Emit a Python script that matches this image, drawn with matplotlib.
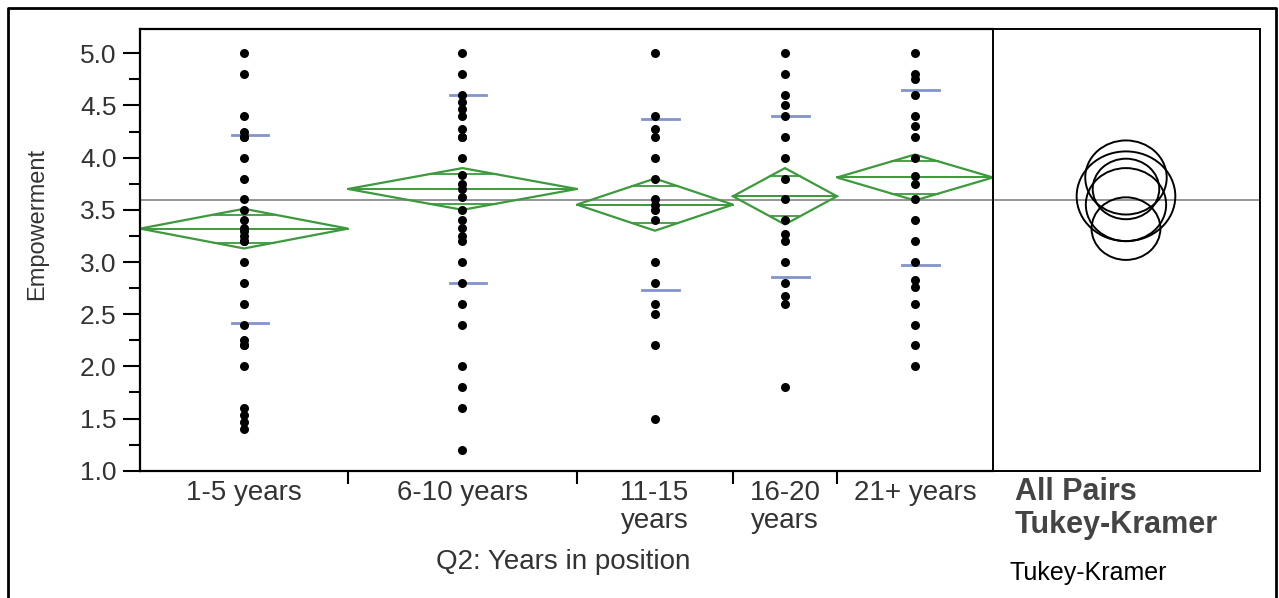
import numpy as np
import matplotlib.pyplot as plt
from matplotlib.patches import Ellipse, Polygon
from matplotlib.lines import Line2D

plt.rcParams['font.family'] = ['Liberation Sans', 'DejaVu Sans']

# Colores estilo JMP
COLOR_DIAMANTE = '#3c9a3c'
COLOR_DESV = '#8394cc'
COLOR_MEDIA = '#8c8c8c'
COLOR_TEXTO = '#333333'

# Datos
GRUPOS = ['1-5 years', '6-10 years', '11-15\nyears', '16-20\nyears', '21+ years']
N_GRUPO = [40, 44, 30, 20, 30]

PUNTOS_1_5 = [5.0, 4.8, 4.4, 4.25, 4.2, 4.2, 4.0, 3.8, 3.6, 3.5, 3.4, 3.33, 3.3,
              3.25, 3.2, 3.2, 3.0, 2.8, 2.6, 2.4, 2.25, 2.2, 2.2, 2.0, 1.6,
              1.53, 1.47, 1.4]
PUNTOS_6_10 = [5.0, 4.8, 4.6, 4.53, 4.47, 4.4, 4.27, 4.2, 4.2, 4.0, 3.83, 3.75,
               3.7, 3.62, 3.5, 3.4, 3.33, 3.25, 3.2, 3.0, 2.8, 2.6, 2.4, 2.0,
               1.8, 1.6, 1.2]
PUNTOS_11_15 = [5.0, 4.4, 4.27, 4.2, 4.0, 3.8, 3.6, 3.55, 3.5, 3.4, 3.0, 2.8,
                2.6, 2.5, 2.2, 1.5]
PUNTOS_16_20 = [5.0, 4.8, 4.6, 4.5, 4.4, 4.2, 4.0, 3.8, 3.6, 3.4, 3.27, 3.2,
                3.0, 2.8, 2.67, 2.6, 1.8]
PUNTOS_21 = [5.0, 4.8, 4.75, 4.6, 4.4, 4.3, 4.2, 4.0, 3.82, 3.75, 3.6, 3.4,
             3.2, 3.0, 2.83, 2.76, 2.6, 2.4, 2.2, 2.0]
PUNTOS = [PUNTOS_1_5, PUNTOS_6_10, PUNTOS_11_15, PUNTOS_16_20, PUNTOS_21]

MEDIAS = [3.32, 3.70, 3.55, 3.63, 3.81]
IC_MEDIO = [0.19, 0.20, 0.25, 0.27, 0.22]
DESV_EST = [0.90, 0.90, 0.82, 0.77, 0.84]
RADIO_CIRCULO = [0.30, 0.29, 0.35, 0.43, 0.355]
MEDIA_GLOBAL = 3.59

W, H = 1279, 598


def caja(x0, y0, x1, y1):
    """Convertir píxeles (origen arriba-izquierda) a coordenadas de figura."""
    return [x0 / W, 1 - y1 / H, (x1 - x0) / W, (y1 - y0) / H]


def generar_grafico():
    fig = plt.figure(figsize=(W / 100, H / 100), dpi=100)
    ax = fig.add_axes(caja(140, 29, 993, 470.7))
    ax2 = fig.add_axes(caja(993, 29, 1260, 470.7), sharey=ax)

    limites = np.concatenate([[0], np.cumsum(N_GRUPO)])
    centros = (limites[:-1] + limites[1:]) / 2

    for i, pts in enumerate(PUNTOS):
        b0, b1, c = limites[i], limites[i + 1], centros[i]
        m, ic, sd = MEDIAS[i], IC_MEDIO[i], DESV_EST[i]

        # Diamante de medias
        diam = Polygon([(b0, m), (c, m + ic), (b1, m), (c, m - ic)], closed=True,
                       fill=False, edgecolor=COLOR_DIAMANTE, linewidth=1.6, zorder=2)
        ax.add_patch(diam)
        ax.plot([b0, b1], [m, m], color=COLOR_DIAMANTE, linewidth=1.4, zorder=2)
        # Marcas de solapamiento
        d = ic / np.sqrt(2)
        hw = (b1 - b0) / 2 * (1 - d / ic)
        for yy in (m + d, m - d):
            ax.plot([c - hw, c + hw], [yy, yy], color=COLOR_DIAMANTE, linewidth=1.3, zorder=2)

        # Desviación estándar
        for yy in (m + sd, m - sd):
            ax.plot([c - 2.4, c + 4.6], [yy, yy], color=COLOR_DESV, linewidth=2, zorder=2)

        ax.plot(np.full(len(pts), c), pts, 'o', color='black', markersize=6.5,
                markeredgewidth=0, zorder=3)

    ax.axhline(MEDIA_GLOBAL, color=COLOR_MEDIA, linewidth=1.3, zorder=1)
    ax2.axhline(MEDIA_GLOBAL, color=COLOR_MEDIA, linewidth=1.3, zorder=1)

    ax.set_xlim(0, limites[-1])
    ax.set_ylim(1.0, 5.233)
    ax.set_yticks(np.arange(1.0, 5.01, 0.5))
    ax.set_yticks(np.arange(1.25, 5.0, 0.5), minor=True)
    ax.set_yticklabels([f'{v:.1f}' for v in np.arange(1.0, 5.01, 0.5)])
    ax.tick_params(axis='y', which='major', length=12, width=1.5, pad=5,
                   labelsize=19, labelcolor=COLOR_TEXTO)
    ax.tick_params(axis='y', which='minor', length=8, width=1.5)

    ax.set_xticks(limites[1:-1])
    ax.set_xticklabels([])
    ax.set_xticks(centros, minor=True)
    ax.set_xticklabels(GRUPOS, minor=True)
    ax.tick_params(axis='x', which='major', length=9, width=1.5)
    ax.tick_params(axis='x', which='minor', length=0, pad=7, labelsize=20,
                   labelcolor=COLOR_TEXTO)
    for lbl in ax.get_xticklabels(minor=True):
        lbl.set_linespacing(1.1)

    for lado in ('left', 'bottom', 'top'):
        ax.spines[lado].set_linewidth(1.6)
    ax.spines['right'].set_visible(False)

    # Panel de círculos de comparación
    ax2.set_xlim(0, 267 / 104.3)
    for m, r in zip(MEDIAS, RADIO_CIRCULO):
        ax2.add_patch(Ellipse((1.275, m), width=2 * r * 1.1, height=2 * r,
                              fill=False, edgecolor='black', linewidth=1.4))
    ax2.tick_params(which='both', left=False, labelleft=False,
                    bottom=False, labelbottom=False)
    for lado in ax2.spines.values():
        lado.set_linewidth(1.4)

    # Etiquetas
    fig.text(37 / W, 1 - 224 / H, 'Empowerment', rotation=90, ha='center',
             va='center', fontsize=17, color=COLOR_TEXTO)
    fig.text(563 / W, 1 - 562 / H, 'Q2: Years in position', ha='center',
             va='center', fontsize=20, color=COLOR_TEXTO)
    fig.text(1015 / W, 1 - 492 / H, 'All Pairs', ha='left', va='center',
             fontsize=22, fontweight='bold', color='#444444')
    fig.text(1015 / W, 1 - 525 / H, 'Tukey-Kramer', ha='left', va='center',
             fontsize=22, fontweight='bold', color='#444444')
    fig.text(1010 / W, 1 - 573 / H, 'Tukey-Kramer', ha='left', va='center',
             fontsize=18, color='black')

    # Marco exterior
    fig.add_artist(Line2D([8 / W, 8 / W, 1276 / W, 1276 / W],
                          [0, 1 - 8 / H, 1 - 8 / H, 0],
                          transform=fig.transFigure, color='black', linewidth=2))

    fig.savefig('out.png', dpi=100)
    plt.close(fig)


if __name__ == '__main__':
    generar_grafico()
